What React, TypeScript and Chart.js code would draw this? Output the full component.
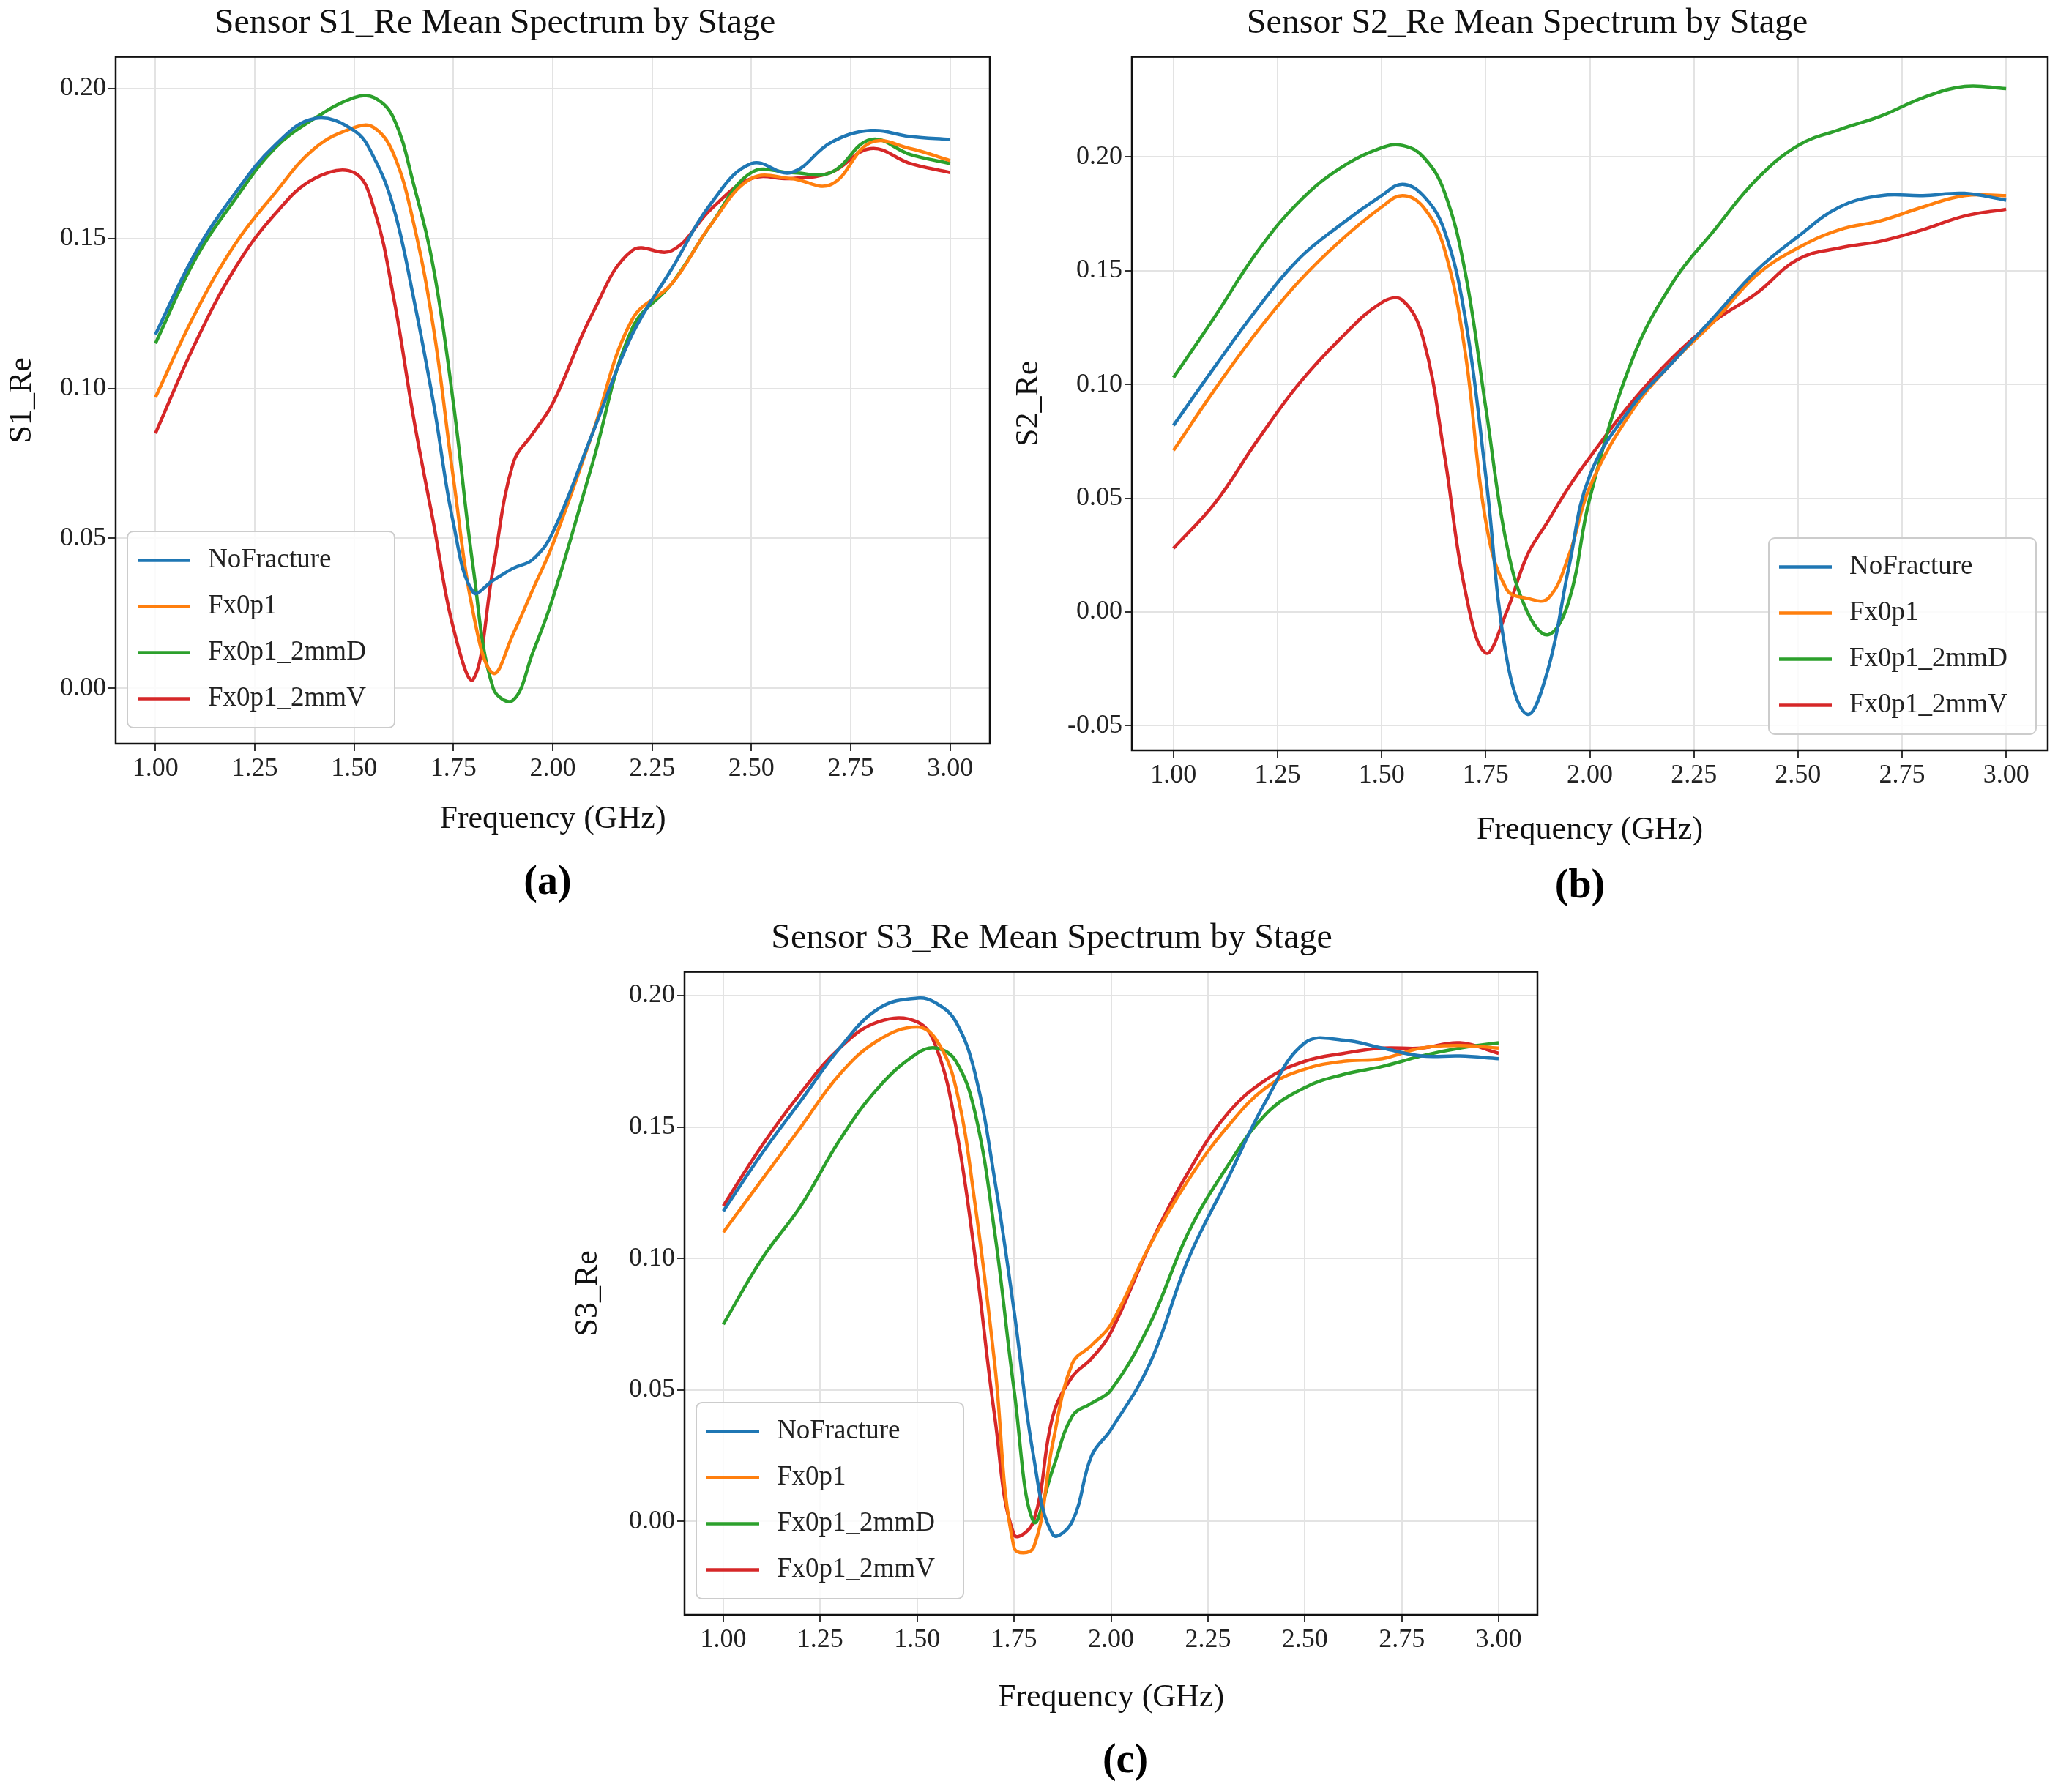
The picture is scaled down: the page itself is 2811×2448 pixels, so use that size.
import React, { useEffect, useRef } from "react";
import { Chart, registerables } from "chart.js";
Chart.register(...registerables);

const freq = [1.0,1.1,1.2,1.3,1.4,1.5,1.55,1.6,1.65,1.7,1.75,1.8,1.85,1.9,1.95,2.0,2.1,2.2,2.3,2.4,2.5,2.6,2.7,2.8,2.9,3.0];
const stages = ["NoFracture", "Fx0p1", "Fx0p1_2mmD", "Fx0p1_2mmV"];
const colors = ["#1f77b4", "#ff7f0e", "#2ca02c", "#d62728"];

const s1NoFracture = [0.118,0.145,0.165,0.181,0.190,0.186,0.177,0.160,0.130,0.095,0.055,0.032,0.036,0.040,0.043,0.052,0.085,0.118,0.140,0.162,0.175,0.172,0.182,0.186,0.184,0.183];
const s1Fx0p1 = [0.097,0.125,0.148,0.165,0.180,0.187,0.187,0.178,0.155,0.120,0.070,0.025,0.005,0.018,0.033,0.048,0.085,0.123,0.135,0.155,0.170,0.170,0.168,0.182,0.180,0.176];
const s1Fx0p1_2mmD = [0.115,0.143,0.163,0.180,0.190,0.197,0.197,0.190,0.168,0.140,0.095,0.040,0.000,-0.004,0.012,0.030,0.075,0.120,0.135,0.155,0.172,0.172,0.172,0.183,0.178,0.175];
const s1Fx0p1_2mmV = [0.085,0.115,0.140,0.158,0.170,0.172,0.160,0.130,0.090,0.055,0.020,0.003,0.040,0.075,0.085,0.095,0.125,0.146,0.146,0.160,0.170,0.170,0.172,0.180,0.175,0.172];

const s2NoFracture = [0.082,0.108,0.133,0.155,0.170,0.183,0.188,0.183,0.168,0.130,0.060,-0.020,-0.045,-0.025,0.020,0.060,0.090,0.110,0.130,0.150,0.165,0.178,0.183,0.183,0.184,0.181];
const s2Fx0p1 = [0.071,0.098,0.123,0.145,0.163,0.178,0.183,0.178,0.160,0.115,0.040,0.010,0.006,0.006,0.025,0.055,0.088,0.110,0.128,0.148,0.160,0.168,0.172,0.178,0.183,0.183];
const s2Fx0p1_2mmD = [0.103,0.130,0.158,0.180,0.195,0.204,0.205,0.200,0.185,0.150,0.090,0.030,0.000,-0.010,0.005,0.050,0.110,0.145,0.168,0.190,0.205,0.212,0.218,0.226,0.231,0.230];
const s2Fx0p1_2mmV = [0.028,0.048,0.075,0.100,0.120,0.136,0.137,0.120,0.070,0.010,-0.018,0.000,0.025,0.040,0.055,0.068,0.092,0.112,0.128,0.140,0.155,0.160,0.163,0.168,0.174,0.177];

const s3NoFracture = [0.118,0.140,0.160,0.180,0.195,0.199,0.197,0.190,0.170,0.130,0.080,0.025,-0.005,0.000,0.025,0.035,0.060,0.100,0.130,0.160,0.182,0.183,0.180,0.177,0.177,0.176];
const s3Fx0p1 = [0.110,0.130,0.150,0.170,0.183,0.188,0.183,0.165,0.120,0.060,-0.010,-0.010,0.030,0.060,0.067,0.075,0.105,0.130,0.150,0.165,0.172,0.175,0.176,0.180,0.181,0.180];
const s3Fx0p1_2mmD = [0.075,0.100,0.120,0.145,0.165,0.178,0.180,0.175,0.155,0.110,0.050,0.000,0.020,0.040,0.045,0.050,0.075,0.110,0.135,0.155,0.165,0.170,0.173,0.177,0.180,0.182];
const s3Fx0p1_2mmV = [0.120,0.143,0.163,0.180,0.190,0.190,0.180,0.150,0.100,0.040,-0.005,0.000,0.040,0.055,0.062,0.072,0.105,0.133,0.155,0.168,0.175,0.178,0.180,0.180,0.182,0.178];

const FONT = "'Liberation Serif', 'DejaVu Serif', serif";

const legendPlugin = {
  id: "insideLegend",
  afterDraw(chart: any) {
    const o = chart.options.plugins.insideLegend;
    if (!o) return;
    const { ctx, chartArea } = chart;
    ctx.save();
    ctx.strokeStyle = "#111";
    ctx.lineWidth = 2.5;
    ctx.strokeRect(chartArea.left, chartArea.top, chartArea.right - chartArea.left, chartArea.bottom - chartArea.top);
    const w = 365, rowH = 63, h = rowH * 4 + 16;
    const x = o.side === "right" ? chartArea.right - 16 - w : chartArea.left + 16;
    const y = chartArea.bottom - 22 - h;
    ctx.fillStyle = "rgba(255,255,255,0.85)";
    ctx.strokeStyle = "#cccccc";
    ctx.lineWidth = 2;
    ctx.beginPath();
    ctx.roundRect(x, y, w, h, 8);
    ctx.fill();
    ctx.stroke();
    ctx.font = `37px ${FONT}`;
    ctx.textBaseline = "middle";
    chart.data.datasets.forEach((d: any, i: number) => {
      const cy = y + 8 + rowH * (i + 0.5);
      ctx.strokeStyle = d.borderColor;
      ctx.lineWidth = 4.5;
      ctx.beginPath();
      ctx.moveTo(x + 14, cy);
      ctx.lineTo(x + 86, cy);
      ctx.stroke();
      ctx.fillStyle = "#222";
      ctx.fillText(d.label, x + 110, cy);
    });
    ctx.restore();
  },
};

function Panel({ title, yLabel, series, yMin, yMax, left, top, width, height, leftW, bottomH, legendSide }: any) {
  const ref = useRef<HTMLCanvasElement>(null);
  useEffect(() => {
    const chart = new Chart(ref.current!, {
      type: "line",
      data: {
        datasets: series.map((s: number[], i: number) => ({
          label: stages[i],
          data: freq.map((f, j) => ({ x: f, y: s[j] })),
          borderColor: colors[i],
          backgroundColor: colors[i],
          borderWidth: 4.5,
          pointRadius: 0,
          tension: 0.4,
        })),
      },
      plugins: [legendPlugin],
      options: {
        animation: false,
        responsive: false,
        layout: { padding: { right: 14, top: 0 } },
        plugins: {
          legend: { display: false },
          tooltip: { enabled: false },
          title: { display: true, text: title, color: "#111", font: { family: FONT, size: 48, weight: "normal" }, padding: { top: 4, bottom: 16 } },
          insideLegend: { side: legendSide },
        } as any,
        scales: {
          x: {
            type: "linear", min: 0.9, max: 3.1,
            ticks: { stepSize: 0.25, color: "#222", font: { family: FONT, size: 36 }, callback: (v: any) => Number(v).toFixed(2), maxRotation: 0 },
            afterBuildTicks: (ax: any) => { ax.ticks = [1, 1.25, 1.5, 1.75, 2, 2.25, 2.5, 2.75, 3].map((v) => ({ value: v })); },
            afterFit: (ax: any) => { ax.height = bottomH; },
            grid: { color: "#e3e3e3", lineWidth: 2, tickColor: "#333", tickLength: 10 },
            border: { color: "#111", width: 2 },
            title: { display: true, text: "Frequency (GHz)", color: "#111", font: { family: FONT, size: 44 }, padding: { top: 0 } },
          },
          y: {
            min: yMin, max: yMax,
            ticks: { stepSize: 0.05, color: "#222", font: { family: FONT, size: 36 }, callback: (v: any) => Number(v).toFixed(2) },
            afterBuildTicks: (ax: any) => {
              const t = [];
              for (let v = -0.05; v <= 0.2501; v += 0.05) if (v >= yMin && v <= yMax) t.push({ value: Math.round(v * 100) / 100 });
              ax.ticks = t;
            },
            afterFit: (ax: any) => { ax.width = leftW; },
            grid: { color: "#e3e3e3", lineWidth: 2, tickColor: "#333", tickLength: 10 },
            border: { color: "#111", width: 2 },
            title: { display: true, text: yLabel, color: "#111", font: { family: FONT, size: 44 } },
          },
        },
      } as any,
    });
    return () => chart.destroy();
  }, []);
  return (
    <div style={{ position: "absolute", left, top, width, height }}>
      <canvas ref={ref} width={width} height={height} style={{ width, height, display: "block" }} />
    </div>
  );
}

const labelStyle: any = { position: "absolute", fontFamily: FONT, fontWeight: "bold", fontSize: 56, transform: "translateX(-50%)" };

export default function App() {
  return (
    <div style={{ position: "absolute", left: 0, top: 0, width: 2811, height: 2448, background: "#fff" }}>
      <Panel title="Sensor S1_Re Mean Spectrum by Stage" yLabel="S1_Re" series={[s1NoFracture, s1Fx0p1, s1Fx0p1_2mmD, s1Fx0p1_2mmV]}
        yMin={-0.0185} yMax={0.2106} left={0} top={0} width={1366} height={1150} leftW={158} bottomH={134} legendSide="left" />
      <Panel title="Sensor S2_Re Mean Spectrum by Stage" yLabel="S2_Re" series={[s2NoFracture, s2Fx0p1, s2Fx0p1_2mmD, s2Fx0p1_2mmV]}
        yMin={-0.0608} yMax={0.244} left={1375} top={0} width={1436} height={1165} leftW={171} bottomH={140} legendSide="right" />
      <Panel title="Sensor S3_Re Mean Spectrum by Stage" yLabel="S3_Re" series={[s3NoFracture, s3Fx0p1, s3Fx0p1_2mmD, s3Fx0p1_2mmV]}
        yMin={-0.0355} yMax={0.209} left={773} top={1250} width={1341} height={1100} leftW={162} bottomH={144} legendSide="left" />
      <div style={{ ...labelStyle, left: 748, top: 1170 }}>(a)</div>
      <div style={{ ...labelStyle, left: 2158, top: 1175 }}>(b)</div>
      <div style={{ ...labelStyle, left: 1537, top: 2370 }}>(c)</div>
    </div>
  );
}
